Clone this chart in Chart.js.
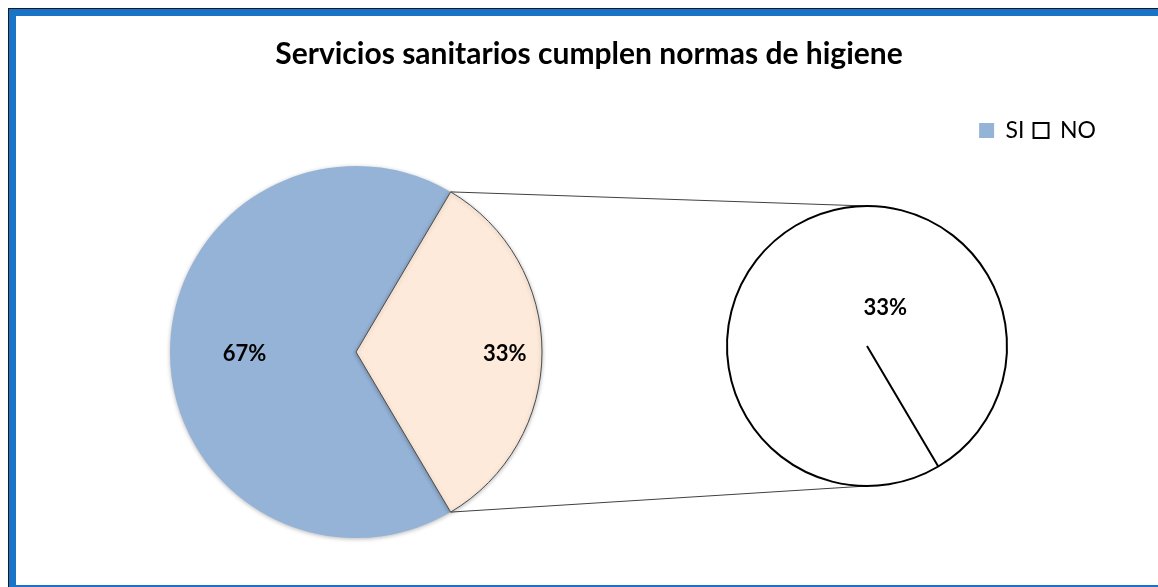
<!DOCTYPE html>
<html>
<head>
<meta charset="utf-8">
<script src="https://cdn.jsdelivr.net/npm/chart.js@4.4.0/dist/chart.umd.min.js"></script>
<style>
html,body{margin:0;padding:0;background:#fff;width:1158px;height:587px;overflow:hidden;}
#frame{position:absolute;left:8px;top:8px;width:1300px;height:700px;border-left:1px solid #1b1b1b;border-top:1px solid #1b1b1b;}
#inner{position:absolute;left:0;top:0;width:1290px;height:569px;border-left:7px solid #1a73c6;border-top:7px solid #1a73c6;border-bottom:7px solid #1a73c6;background:#fff;}
canvas{position:absolute;left:0;top:0;}
</style>
</head>
<body>
<div id="frame"><div id="inner"></div></div>
<canvas id="cA" width="1158" height="587"></canvas>
<canvas id="cB" width="1158" height="587"></canvas>
<canvas id="cC" width="1158" height="587"></canvas>
<script>
// ---- data ----
const chartTitle = 'Servicios sanitarios cumplen normas de higiene';
const categories = ['SI', 'NO'];
const values = [67, 33];
const subCategories = ['NO'];
const subValues = [33];

// ---- styles ----
const sliceColors = ['#95B3D7', '#FDEADA'];
const legendFill = ['#95B3D7', '#FFFFFF'];
const legendStroke = ['#95B3D7', '#000000'];
const legendLineWidth = [0, 2];
const FONT = 'Lato, "Open Sans", "Liberation Sans", sans-serif';

// rotation so that the NO slice is centred at 3 o'clock
const total = values.reduce((a, b) => a + b, 0);
const siDeg = values[0] / total * 360;
const noDeg = values[1] / total * 360;
const rot = ((90 - noDeg / 2 - siDeg) % 360 + 360) % 360;

const labelPlugin = {
  id: 'pctLabels',
  afterDatasetsDraw(chart, args, opts) {
    const ctx = chart.ctx;
    const meta = chart.getDatasetMeta(0);
    const data = chart.data.datasets[0].data;
    ctx.save();
    ctx.font = 'bold 22px ' + FONT;
    ctx.fillStyle = '#000';
    ctx.textAlign = 'center';
    ctx.textBaseline = 'middle';
    meta.data.forEach((arc, i) => {
      const p = arc.getProps(['x', 'y', 'startAngle', 'endAngle', 'outerRadius'], true);
      const pct = Math.round(data[i] / opts.base * 100) + '%';
      let x, y;
      if (opts.dx !== undefined) {
        x = p.x + opts.dx * p.outerRadius;
        y = p.y + opts.dy * p.outerRadius;
      } else {
        const mid = (p.startAngle + p.endAngle) / 2;
        const f = opts.factors[i];
        x = p.x + Math.cos(mid) * p.outerRadius * f;
        y = p.y + Math.sin(mid) * p.outerRadius * f + 2;
      }
      ctx.fillText(pct, x, y);
    });
    ctx.restore();
  }
};

const shadowPlugin = {
  id: 'softShadow',
  beforeDatasetsDraw(chart) {
    const ctx = chart.ctx;
    ctx.save();
    ctx.shadowColor = 'rgba(0,0,0,0.28)';
    ctx.shadowBlur = 4;
    ctx.shadowOffsetX = 0;
    ctx.shadowOffsetY = 1;
  },
  afterDatasetsDraw(chart) {
    chart.ctx.restore();
  }
};

const common = {
  responsive: false,
  animation: false,
  events: [],
};

// ---- main pie ----
const chartB = new Chart(document.getElementById('cB'), {
  type: 'pie',
  data: {
    labels: categories,
    datasets: [{
      data: values,
      backgroundColor: sliceColors,
      borderColor: ['rgba(0,0,0,0)', '#4a4a4a'],
      borderWidth: [0, 1],
      radius: 186,
      rotation: rot
    }]
  },
  options: Object.assign({}, common, {
    rotation: rot,
    radius: 186,
    layout: { padding: { left: 0, right: 446, top: 166, bottom: 49 } },
    plugins: {
      legend: { display: false },
      title: { display: false },
      tooltip: { enabled: false },
      pctLabels: { factors: [0.6, 0.8], base: total }
    }
  }),
  plugins: [shadowPlugin, labelPlugin]
});

// ---- secondary pie ----
const chartC = new Chart(document.getElementById('cC'), {
  type: 'pie',
  data: {
    labels: subCategories,
    datasets: [{
      data: subValues,
      backgroundColor: ['#FFFFFF'],
      borderColor: ['#000000'],
      borderWidth: 2,
      radius: 140,
      rotation: rot
    }]
  },
  options: Object.assign({}, common, {
    rotation: rot,
    radius: 140,
    layout: { padding: { left: 727, right: 151, top: 206, bottom: 101 } },
    plugins: {
      legend: { display: false },
      title: { display: false },
      tooltip: { enabled: false },
      pctLabels: { dx: 0.13, dy: -0.27, base: total }
    }
  }),
  plugins: [labelPlugin]
});

// ---- title, legend and connector lines ----
const connectorPlugin = {
  id: 'connectors',
  afterDraw(chart) {
    const a = chartB.getDatasetMeta(0).data[1].getProps(['x', 'y', 'startAngle', 'endAngle', 'outerRadius'], true);
    const c = chartC.getDatasetMeta(0).data[0].getProps(['x', 'y', 'outerRadius'], true);
    const ctx = chart.ctx;
    ctx.save();
    ctx.strokeStyle = '#404040';
    ctx.lineWidth = 1;
    ctx.beginPath();
    ctx.moveTo(a.x + Math.cos(a.startAngle) * a.outerRadius, a.y + Math.sin(a.startAngle) * a.outerRadius);
    ctx.lineTo(c.x, c.y - c.outerRadius);
    ctx.moveTo(a.x + Math.cos(a.endAngle) * a.outerRadius, a.y + Math.sin(a.endAngle) * a.outerRadius);
    ctx.lineTo(c.x, c.y + c.outerRadius);
    ctx.stroke();
    ctx.restore();
  }
};

new Chart(document.getElementById('cA'), {
  type: 'pie',
  data: { labels: categories, datasets: [] },
  options: Object.assign({}, common, {
    layout: { padding: { left: 73, right: 53, top: 0, bottom: 0 } },
    plugins: {
      tooltip: { enabled: false },
      title: {
        display: true,
        text: chartTitle,
        color: '#000',
        font: { family: FONT, size: 30, weight: 'bold' },
        padding: { top: 36, bottom: 38 }
      },
      legend: {
        display: true,
        position: 'top',
        align: 'end',
        labels: {
          color: '#000',
          font: { family: FONT, size: 23 },
          boxWidth: 15,
          boxHeight: 15,
          padding: 9,
          generateLabels: () => categories.map((c, i) => ({
            text: c,
            fillStyle: legendFill[i],
            strokeStyle: legendStroke[i],
            lineWidth: legendLineWidth[i],
            fontColor: '#000',
            hidden: false,
            index: i
          }))
        }
      }
    }
  }),
  plugins: [connectorPlugin]
});
</script>
</body>
</html>
